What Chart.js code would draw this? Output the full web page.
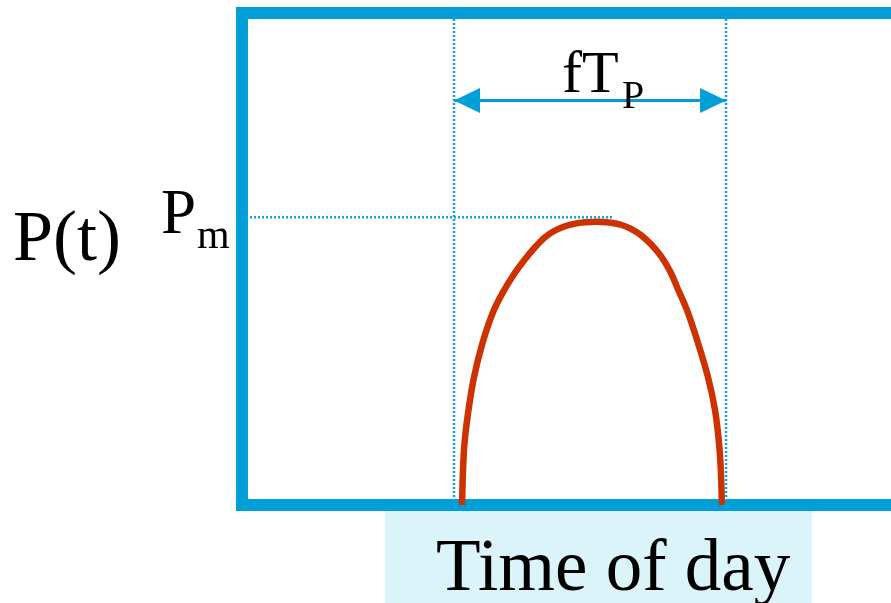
<!DOCTYPE html>
<html>
<head>
<meta charset="utf-8">
<title>P(t) over time of day</title>
<script src="https://cdn.jsdelivr.net/npm/chart.js@4.4.0/dist/chart.umd.min.js"></script>
<style>
    html, body { margin: 0; padding: 0; background: #ffffff; overflow: hidden; }
    #wrap { width: 891px; height: 603px; }
</style>
</head>
<body>
<div id="wrap"><canvas id="powerChart" width="891" height="603"></canvas></div>
<script>
// Time of day in hours, and the power curve (Pm = 1)
const timeHours = [8.136, 8.173, 8.228, 8.376, 8.579, 8.894, 9.282, 9.652, 10.058, 10.465,
    10.835, 11.205, 11.575, 11.944, 12.314, 12.684, 12.980, 13.276, 13.646, 14.015,
    14.385, 14.755, 15.125, 15.495, 15.827, 16.123, 16.456, 16.863, 17.233, 17.492,
    17.640, 17.706, 17.750];
const powerValues = [0, 0.122, 0.215, 0.330, 0.444, 0.563, 0.670, 0.740, 0.802, 0.854,
    0.896, 0.931, 0.954, 0.969, 0.978, 0.983, 0.984, 0.984, 0.981, 0.974,
    0.960, 0.938, 0.906, 0.865, 0.813, 0.750, 0.677, 0.563, 0.444, 0.330,
    0.215, 0.122, 0];

// Markers: the production window fT_P and the peak level Pm
const windowHours = [7.84, 17.90];
const peakPower = 1;
const peakLineEnd = 13.72;
const arrowLevel = 1.406;

const hourRange = [0, 24];
const powerRange = [0, 1.71];

const frameBlue = '#009fd8';
const dotBlue = '#12a3df';
const curveRed = '#cc3300';

const curvePoints = timeHours.map((h, i) => ({ x: h, y: powerValues[i] }));

function dottedLine(points) {
    return {
        data: points,
        borderColor: dotBlue,
        borderWidth: 2.5,
        borderDash: [2, 2],
        pointRadius: 0,
        fill: false
    };
}

// Label box, arrowheads and the text labels
const annotations = {
    id: 'annotations',
    beforeDraw(chart) {
        const ctx = chart.ctx;
        ctx.save();
        ctx.fillStyle = '#daf4f9';
        ctx.fillRect(385, 511, 427, 92);
        ctx.restore();
    },
    afterDraw(chart) {
        const ctx = chart.ctx;
        const x = chart.scales.x;
        const y = chart.scales.y;
        const ay = y.getPixelForValue(arrowLevel);
        const left = x.getPixelForValue(windowHours[0]);
        const right = x.getPixelForValue(windowHours[1]);

        ctx.save();
        ctx.fillStyle = frameBlue;
        ctx.beginPath();
        ctx.moveTo(left, ay);
        ctx.lineTo(left + 26, ay - 12.5);
        ctx.lineTo(left + 26, ay + 12.5);
        ctx.closePath();
        ctx.fill();
        ctx.beginPath();
        ctx.moveTo(right, ay);
        ctx.lineTo(right - 26, ay - 12.5);
        ctx.lineTo(right - 26, ay + 12.5);
        ctx.closePath();
        ctx.fill();

        ctx.fillStyle = '#000000';
        ctx.textBaseline = 'alphabetic';
        ctx.textAlign = 'left';
        const serif = '"Liberation Serif", "Times New Roman", serif';

        ctx.font = '72px ' + serif;
        ctx.fillText('P(t)', 13, 260);

        ctx.font = '63px ' + serif;
        ctx.fillText('P', 161, 233);
        ctx.font = '42px ' + serif;
        ctx.fillText('m', 197, 248);

        ctx.font = '60px ' + serif;
        ctx.fillText('fT', 562, 92);
        ctx.font = '40px ' + serif;
        ctx.fillText('P', 622, 108);

        ctx.font = '73px ' + serif;
        ctx.fillText('Time of day', 436, 590);
        ctx.restore();
    }
};

const ctx = document.getElementById('powerChart').getContext('2d');
const powerChart = new Chart(ctx, {
    type: 'line',
    data: {
        datasets: [
            dottedLine([{ x: windowHours[0], y: powerRange[0] }, { x: windowHours[0], y: powerRange[1] }]),
            dottedLine([{ x: windowHours[1], y: powerRange[0] }, { x: windowHours[1], y: powerRange[1] }]),
            dottedLine([{ x: hourRange[0], y: peakPower }, { x: peakLineEnd, y: peakPower }]),
            {
                data: [{ x: windowHours[0], y: arrowLevel }, { x: windowHours[1], y: arrowLevel }],
                borderColor: frameBlue,
                borderWidth: 3,
                pointRadius: 0
            },
            {
                data: curvePoints,
                borderColor: curveRed,
                borderWidth: 6.5,
                pointRadius: 0,
                tension: 0.3,
                fill: false
            }
        ]
    },
    options: {
        responsive: false,
        devicePixelRatio: 1,
        animation: false,
        layout: { padding: 0 },
        plugins: {
            legend: { display: false },
            tooltip: { enabled: false }
        },
        scales: {
            x: {
                type: 'linear',
                position: 'bottom',
                min: hourRange[0],
                max: hourRange[1],
                z: 1,
                ticks: { display: false },
                grid: { display: false },
                border: { display: true, color: frameBlue, width: 12 },
                afterFit(scale) { scale.height = 98; }
            },
            xTop: {
                type: 'linear',
                position: 'top',
                min: hourRange[0],
                max: hourRange[1],
                z: 1,
                ticks: { display: false },
                grid: { display: false },
                border: { display: true, color: frameBlue, width: 12 },
                afterFit(scale) { scale.height = 13; }
            },
            y: {
                type: 'linear',
                position: 'left',
                min: powerRange[0],
                max: powerRange[1],
                z: 1,
                ticks: { display: false },
                grid: { display: false },
                border: { display: true, color: frameBlue, width: 12 },
                afterFit(scale) { scale.width = 242; }
            }
        }
    },
    plugins: [annotations]
});
</script>
</body>
</html>
